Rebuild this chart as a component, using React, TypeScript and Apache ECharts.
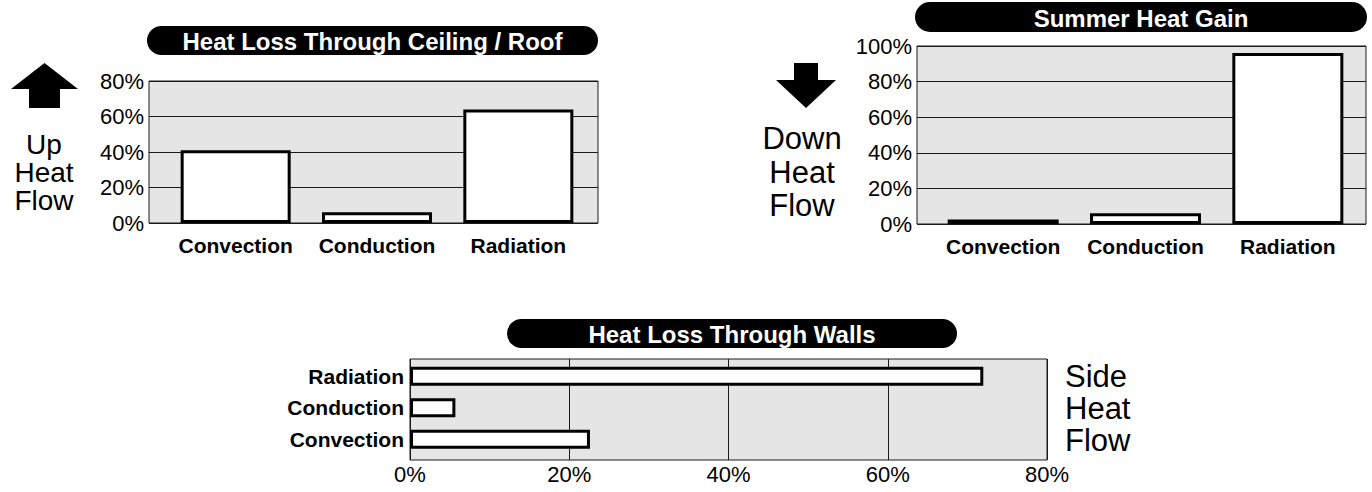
import React, { useEffect, useRef } from "react";
import * as echarts from "echarts";

const categories = ["Convection", "Conduction", "Radiation"];
const ceilingValues = [41, 6, 64];
const summerValues = [2.5, 6, 96];
const wallCategories = ["Convection", "Conduction", "Radiation"];
const wallValues = [22.6, 5.7, 72];
const ceilingMax = 80;
const summerMax = 100;
const wallMax = 80;
const tickStep = 20;

const titles = ["Heat Loss Through Ceiling / Roof", "Summer Heat Gain", "Heat Loss Through Walls"];
const upLabel = ["Up", "Heat", "Flow"];
const downLabel = ["Down", "Heat", "Flow"];
const sideLabel = ["Side", "Heat", "Flow"];

const FONT = "'Liberation Sans', Arial, Helvetica, sans-serif";

function pill(text: string, x: number, y: number, w: number, h: number) {
  return {
    type: "group",
    children: [
      { type: "rect", shape: { x, y, width: w, height: h, r: h / 2 }, style: { fill: "#000" } },
      {
        type: "text",
        x: x + w / 2,
        y: y + h / 2 + 1,
        style: { text, fill: "#fff", fontFamily: FONT, fontWeight: "bold", fontSize: 24, align: "center", verticalAlign: "middle" },
      },
    ],
  };
}

function stack(lines: string[], x: number, centers: number[], align: string, size: number, lh: number) {
  return lines.map((t, i) => ({
    type: "text",
    x,
    y: centers[i],
    style: { text: t, fill: "#000", fontFamily: FONT, fontSize: size, lineHeight: lh, align, verticalAlign: "middle" },
  }));
}

export default function App() {
  const ref = useRef<HTMLDivElement>(null);
  useEffect(() => {
    const chart = echarts.init(ref.current!, null, { renderer: "svg" });
    const gridStyle = { show: true, backgroundColor: "#e5e5e5", borderColor: "#1a1a1a", borderWidth: 1 };
    const barStyle = { color: "#fff", borderColor: "#000", borderWidth: 3 };
    const valueLabel = { fontFamily: FONT, fontSize: 22, color: "#000", formatter: "{value}%" };
    const catLabel = { fontFamily: FONT, fontSize: 21, fontWeight: "bold", color: "#000", interval: 0 };
    const split = { show: true, lineStyle: { color: "#1a1a1a", width: 1 } };
    const hidden = { show: false };
    const option: any = {
      animation: false,
      grid: [
        { left: 149, top: 81, width: 449, height: 142, ...gridStyle },
        { left: 917, top: 46, width: 449, height: 178, ...gridStyle },
        { left: 410, top: 359, width: 637, height: 101, ...gridStyle },
        { left: 165, top: 81, width: 424, height: 142, show: false },
        { left: 932, top: 46, width: 427, height: 178, show: false },
        { left: 410, top: 360.5, width: 637, height: 94.5, show: false },
      ],
      xAxis: [
        { type: "value", gridIndex: 0, ...hidden },
        { type: "value", gridIndex: 1, ...hidden },
        { type: "value", gridIndex: 2, min: 0, max: wallMax, interval: tickStep, axisLine: { show: false }, axisTick: { show: false }, splitLine: split, axisLabel: { ...valueLabel, margin: 3 } },
        { type: "category", gridIndex: 3, data: categories, axisLine: { show: false }, axisTick: { show: false }, axisLabel: { ...catLabel, margin: 12 } },
        { type: "category", gridIndex: 4, data: categories, axisLine: { show: false }, axisTick: { show: false }, axisLabel: { ...catLabel, margin: 12 } },
        { type: "value", gridIndex: 5, min: 0, max: wallMax, ...hidden },
      ],
      yAxis: [
        { type: "value", gridIndex: 0, min: 0, max: ceilingMax, interval: tickStep, axisLine: { show: false }, axisTick: { show: false }, splitLine: split, axisLabel: { ...valueLabel, margin: 5 } },
        { type: "value", gridIndex: 1, min: 0, max: summerMax, interval: tickStep, axisLine: { show: false }, axisTick: { show: false }, splitLine: split, axisLabel: { ...valueLabel, margin: 5 } },
        { type: "value", gridIndex: 2, ...hidden },
        { type: "value", gridIndex: 3, min: 0, max: ceilingMax, ...hidden },
        { type: "value", gridIndex: 4, min: 0, max: summerMax, ...hidden },
        { type: "category", gridIndex: 5, data: wallCategories, axisLine: { show: false }, axisTick: { show: false }, axisLabel: { ...catLabel, margin: 6 } },
      ],
      series: [
        { type: "bar", xAxisIndex: 3, yAxisIndex: 3, data: ceilingValues, barWidth: 110, itemStyle: barStyle, silent: true },
        { type: "bar", xAxisIndex: 4, yAxisIndex: 4, data: summerValues, barWidth: 111, itemStyle: barStyle, silent: true },
        { type: "bar", xAxisIndex: 5, yAxisIndex: 5, data: wallValues, barWidth: 19, itemStyle: barStyle, silent: true },
      ],
      graphic: [
        pill(titles[0], 147, 26, 451, 29),
        pill(titles[1], 915, 2, 452, 30),
        pill(titles[2], 507, 319, 450, 29),
        {
          type: "polygon",
          shape: { points: [[11, 89], [44.5, 63], [78, 89], [60, 89], [60, 108], [29, 108], [29, 89]] },
          style: { fill: "#000" },
        },
        {
          type: "polygon",
          shape: { points: [[794, 63], [818, 63], [818, 80], [836, 80], [806, 108], [776, 80], [794, 80]] },
          style: { fill: "#000" },
        },
        ...stack(upLabel, 44, [144, 172, 200], "center", 28, 28),
        ...stack(downLabel, 802, [138, 172, 205], "center", 31, 33),
        ...stack(sideLabel, 1065, [376, 408, 440], "left", 31, 32),
      ],
    };
    chart.setOption(option);
    return () => chart.dispose();
  }, []);
  return <div ref={ref} style={{ position: "absolute", left: 0, top: 0, width: 1372, height: 492 }} />;
}
